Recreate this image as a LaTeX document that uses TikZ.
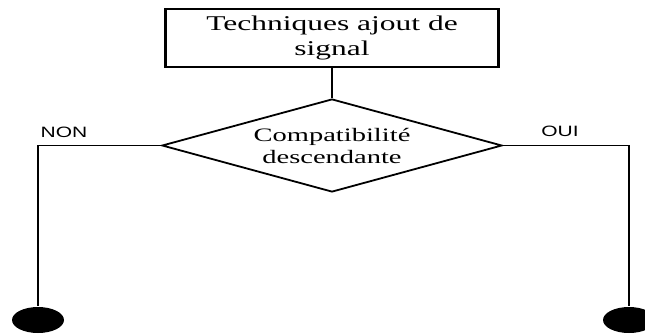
\documentclass[tikz,border=0pt]{standalone}
\usepackage{fontspec}
\setmainfont{Liberation Serif}
\newfontfamily\wideserif[FakeStretch=1.5]{Liberation Serif}
\newfontfamily\widesans[FakeStretch=1.4]{Liberation Sans}
\usetikzlibrary{shapes.geometric}

\begin{document}
\begin{tikzpicture}[x=1pt, y=-1pt, line width=1.5pt,
  titlebox/.style={draw, line width=2.2pt, minimum width=333pt, minimum height=58pt, align=center, font=\wideserif\fontsize{21}{25}\selectfont},
  decision/.style={draw, diamond, aspect=3.6, line width=1.8pt, minimum width=340pt, minimum height=93pt, inner sep=0pt, align=center, font=\wideserif\fontsize{19}{22}\selectfont},
  answer/.style={font=\widesans\fontsize{15}{17}\selectfont},
  endpoint/.style={ellipse, fill=black, minimum width=52pt, minimum height=26pt, inner sep=0pt}]
\useasboundingbox (0,0) rectangle (645,335);
\node[titlebox] (tech) at (332,38) {Techniques ajout de\\signal};
\node[decision] (compat) at (332,145.5) {Compatibilité\\descendante};
\node[answer] (non) at (64,132) {NON};
\node[answer] (oui) at (560,131) {OUI};
\node[endpoint] (endL) at (38,320) {};
\node[endpoint] (endR) at (629,320) {};
\draw (tech) -- (compat);
\draw (compat.west) -| (endL.north);
\draw (compat.east) -| (endR.north);
\end{tikzpicture}
\end{document}
